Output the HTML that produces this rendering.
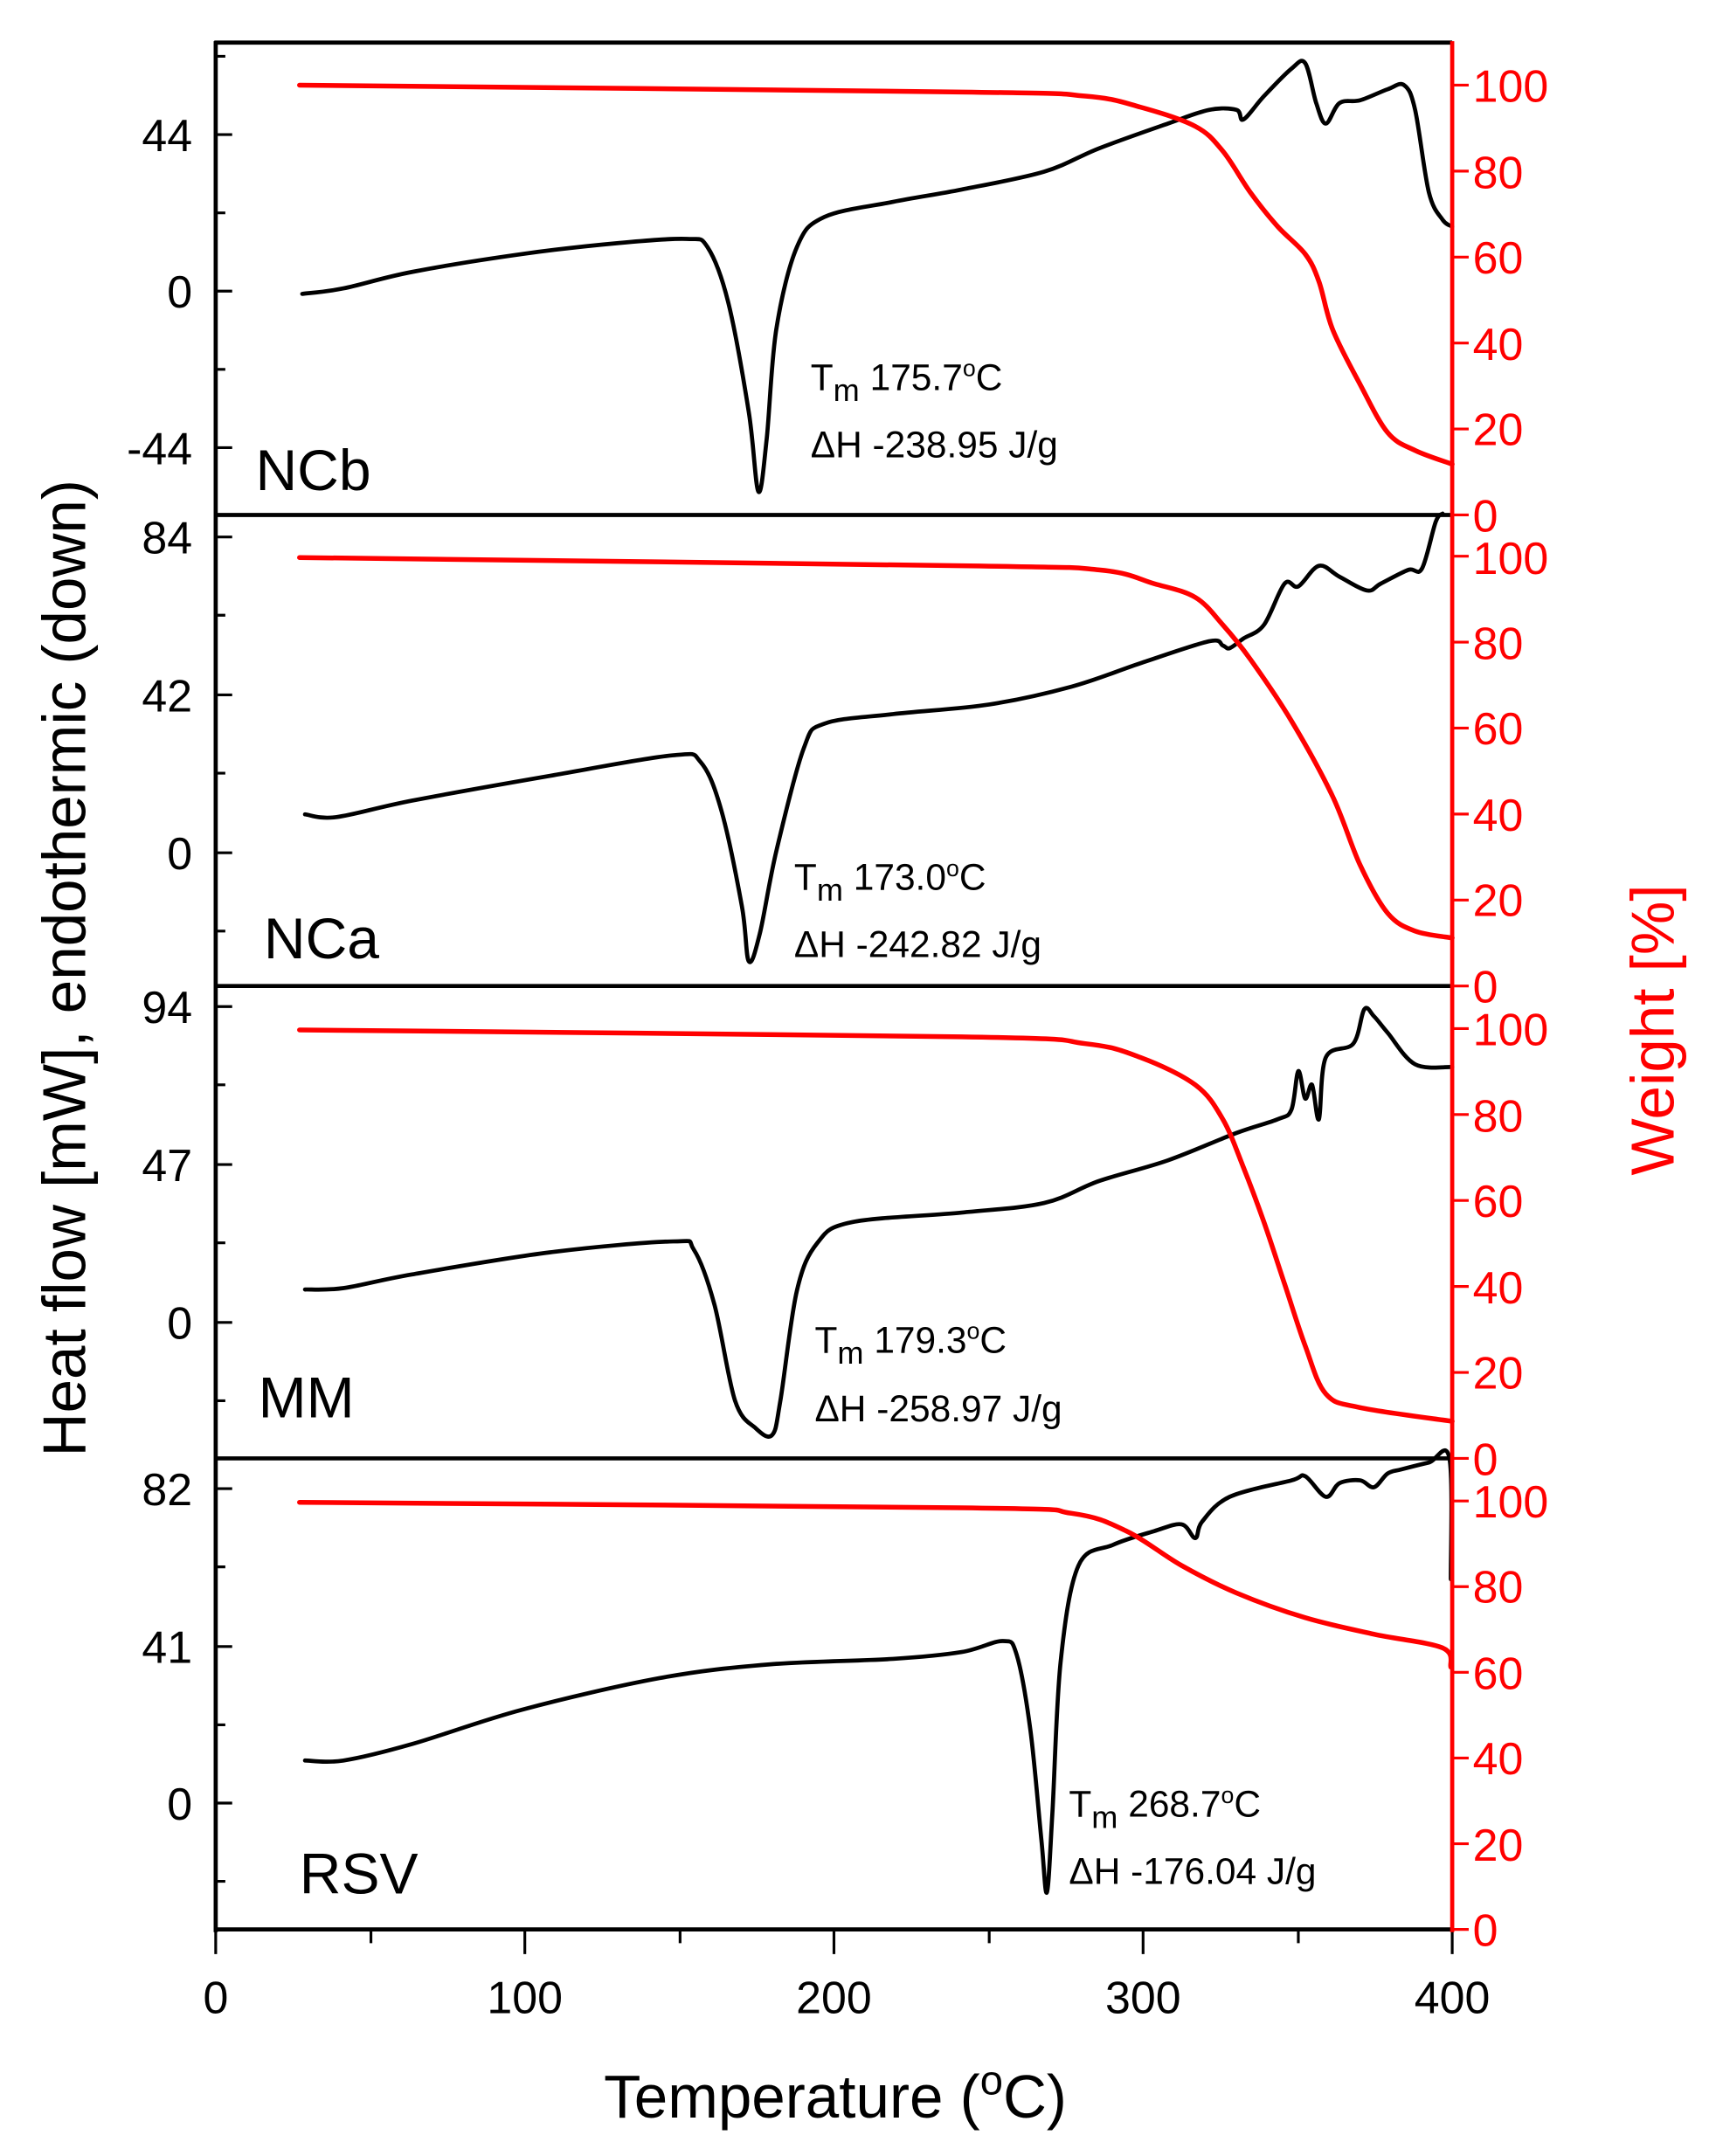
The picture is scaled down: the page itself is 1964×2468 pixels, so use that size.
<!DOCTYPE html>
<html><head><style>html,body{margin:0;padding:0;background:#fff}svg{display:block}</style></head>
<body>
<svg id="s" width="1964" height="2468" viewBox="0 0 1249 1570" preserveAspectRatio="none" xmlns="http://www.w3.org/2000/svg" font-family="Liberation Sans, sans-serif">
<rect width="1249" height="1570" fill="#fff"/>
<g fill="none" stroke-linejoin="round" stroke-linecap="round">
<polyline class="c" stroke="#000" stroke-width="3" points="220,214 250,210 300,198 380,185 450,177 500,174 515,180 530,220 545,300 552,358 558,320 565,240 580,180 600,158 650,147 700,138 760,125 800,108 850,90 880,80 900,80 905,87 920,70 940,50 950,46 958,75 965,90 975,75 990,73 1010,65 1022,62 1030,80 1040,140 1050,160 1057,165"/>
<polyline class="c" stroke="#000" stroke-width="3" points="222,593 245,595 300,583 400,565 490,550 510,555 525,590 540,660 545,700 553,680 565,620 585,545 600,527 650,520 720,513 780,500 830,483 880,467 890,470 895,472 905,465 920,455 935,425 945,427 960,412 975,420 995,430 1005,425 1025,415 1035,414 1045,380 1050,374"/>
<polyline class="c" stroke="#000" stroke-width="3" points="222,939 250,938 300,928 400,912 490,904 505,910 520,950 535,1020 550,1040 562,1045 568,1020 580,940 595,905 620,890 700,883 760,876 800,860 850,845 900,825 930,815 940,808 945,780 950,800 955,790 960,815 965,770 985,760 993,735 1000,740 1010,752 1030,775 1057,777"/>
<polyline class="c" stroke="#000" stroke-width="3" points="222,1282 250,1282 300,1270 380,1245 480,1222 560,1212 650,1208 700,1203 730,1195 740,1205 750,1260 758,1340 762,1378 766,1320 772,1210 785,1140 810,1125 840,1115 860,1110 870,1120 875,1108 895,1090 940,1078 950,1075 965,1090 975,1080 990,1078 1000,1083 1010,1073 1020,1070 1040,1065 1055,1062 1056,1150"/>
<polyline class="c" stroke="#f00" stroke-width="3.5" points="218,62 700,67 790,70 830,78 870,92 890,110 910,140 930,165 950,185 960,205 970,240 990,280 1010,315 1030,328 1057,338"/>
<polyline class="c" stroke="#f00" stroke-width="3.5" points="218,406 700,412 800,415 840,425 870,435 890,455 910,480 940,525 970,580 990,630 1010,665 1030,678 1057,683"/>
<polyline class="c" stroke="#f00" stroke-width="3.5" points="218,750 700,755 790,760 830,770 870,790 890,815 905,850 920,890 935,935 950,980 965,1015 990,1025 1057,1035"/>
<polyline class="c" stroke="#f00" stroke-width="3.5" points="218,1094 700,1098 780,1102 820,1115 860,1140 900,1160 950,1178 1000,1190 1050,1200 1056,1214"/>
</g>
<g stroke="#000" stroke-width="3">
<line x1="157" y1="30" x2="157" y2="1407"/>
<line x1="156" y1="31" x2="1057" y2="31"/>
<line x1="156" y1="375" x2="1057" y2="375"/>
<line x1="156" y1="718" x2="1057" y2="718"/>
<line x1="156" y1="1062" x2="1057" y2="1062"/>
<line x1="156" y1="1405" x2="1057" y2="1405"/>
</g>
<g stroke="#000" stroke-width="2">
<path d="M157 98h12M157 212h12M157 326h12M157 155h7M157 269h7M157 41h7
M157 391h12M157 506h12M157 621h12M157 448h7M157 563h7M157 678h7
M157 733h12M157 848h12M157 963h12M157 790h7M157 905h7M157 1020h7
M157 1084h12M157 1199h12M157 1313h12M157 1141h7M157 1256h7M157 1370h7"/>
<path d="M157 1405v18M382 1405v18M607 1405v18M832 1405v18M1057 1405v18M270 1405v10M495 1405v10M720 1405v10M945 1405v10"/>
</g>
<line x1="1057" y1="30" x2="1057" y2="1407" stroke="#f00" stroke-width="3"/>
<g stroke="#f00" stroke-width="2">
<path d="M1057 62h12M1057 124.6h12M1057 187.2h12M1057 249.8h12M1057 312.4h12M1057 375h12
M1057 405h12M1057 467.6h12M1057 530.2h12M1057 592.8h12M1057 655.4h12M1057 718h12
M1057 749h12M1057 811.6h12M1057 874.2h12M1057 936.8h12M1057 999.4h12M1057 1062h12
M1057 1093h12M1057 1155.4h12M1057 1217.8h12M1057 1280.2h12M1057 1342.6h12M1057 1405h12"/>
</g>
<g font-size="33" text-anchor="end" fill="#000">
<text x="140" y="110">44</text><text x="140" y="224">0</text><text x="140" y="338">-44</text>
<text x="140" y="403">84</text><text x="140" y="518">42</text><text x="140" y="633">0</text>
<text x="140" y="745">94</text><text x="140" y="860">47</text><text x="140" y="975">0</text>
<text x="140" y="1096">82</text><text x="140" y="1211">41</text><text x="140" y="1325">0</text>
</g>
<g font-size="33" fill="#f00">
<text x="1072" y="74">100</text><text x="1072" y="137">80</text><text x="1072" y="199">60</text><text x="1072" y="262">40</text><text x="1072" y="324">20</text><text x="1072" y="387">0</text>
<text x="1072" y="418">100</text><text x="1072" y="480">80</text><text x="1072" y="542">60</text><text x="1072" y="605">40</text><text x="1072" y="667">20</text><text x="1072" y="730">0</text>
<text x="1072" y="761">100</text><text x="1072" y="824">80</text><text x="1072" y="886">60</text><text x="1072" y="949">40</text><text x="1072" y="1011">20</text><text x="1072" y="1074">0</text>
<text x="1072" y="1105">100</text><text x="1072" y="1167">80</text><text x="1072" y="1230">60</text><text x="1072" y="1292">40</text><text x="1072" y="1355">20</text><text x="1072" y="1417">0</text>
</g>
<g font-size="33" text-anchor="middle" fill="#000">
<text x="157" y="1466">0</text><text x="382" y="1466">100</text><text x="607" y="1466">200</text><text x="832" y="1466">300</text><text x="1057" y="1466">400</text>
</g>
<text x="608" y="1542" font-size="44" text-anchor="middle">Temperature (<tspan font-size="30" dy="-17">o</tspan><tspan dy="17">C)</tspan></text>
<text transform="translate(62,705) rotate(-90)" font-size="44" text-anchor="middle">Heat flow [mW], endothermic (down)</text>
<text transform="translate(1218,750) rotate(-90)" font-size="44" text-anchor="middle" fill="#f00">Weight [%]</text>
<g font-size="42" fill="#000">
<text x="186" y="357">NCb</text><text x="192" y="698">NCa</text><text x="188" y="1032">MM</text><text x="218" y="1379">RSV</text>
</g>
<g font-size="27" fill="#000">
<text x="590" y="284">T<tspan font-size="23" dy="8">m</tspan><tspan dy="-8"> 175.7</tspan><tspan font-size="17" dy="-10">o</tspan><tspan dy="10">C</tspan></text>
<text x="590" y="333">ΔH -238.95 J/g</text>
<text x="578" y="648">T<tspan font-size="23" dy="8">m</tspan><tspan dy="-8"> 173.0</tspan><tspan font-size="17" dy="-10">o</tspan><tspan dy="10">C</tspan></text>
<text x="578" y="697">ΔH -242.82 J/g</text>
<text x="593" y="985">T<tspan font-size="23" dy="8">m</tspan><tspan dy="-8"> 179.3</tspan><tspan font-size="17" dy="-10">o</tspan><tspan dy="10">C</tspan></text>
<text x="593" y="1035">ΔH -258.97 J/g</text>
<text x="778" y="1323">T<tspan font-size="23" dy="8">m</tspan><tspan dy="-8"> 268.7</tspan><tspan font-size="17" dy="-10">o</tspan><tspan dy="10">C</tspan></text>
<text x="778" y="1372">ΔH -176.04 J/g</text>
</g>
</svg>
<script>
document.querySelectorAll('polyline.c').forEach(function(pl){
  var p=pl.getAttribute('points').trim().split(/\s+/).map(function(s){return s.split(',').map(Number);});
  var d='M'+p[0][0]+' '+p[0][1];
  for(var i=0;i<p.length-1;i++){
    var p0=p[i-1]||p[i],p1=p[i],p2=p[i+1],p3=p[i+2]||p2,t=0.5/3;
    d+=' C'+(p1[0]+(p2[0]-p0[0])*t)+' '+(p1[1]+(p2[1]-p0[1])*t)+' '+(p2[0]-(p3[0]-p1[0])*t)+' '+(p2[1]-(p3[1]-p1[1])*t)+' '+p2[0]+' '+p2[1];
  }
  var path=document.createElementNS('http://www.w3.org/2000/svg','path');
  path.setAttribute('d',d);
  ['stroke','stroke-width'].forEach(function(a){path.setAttribute(a,pl.getAttribute(a));});
  pl.parentNode.replaceChild(path,pl);
});
</script>
</body></html>
